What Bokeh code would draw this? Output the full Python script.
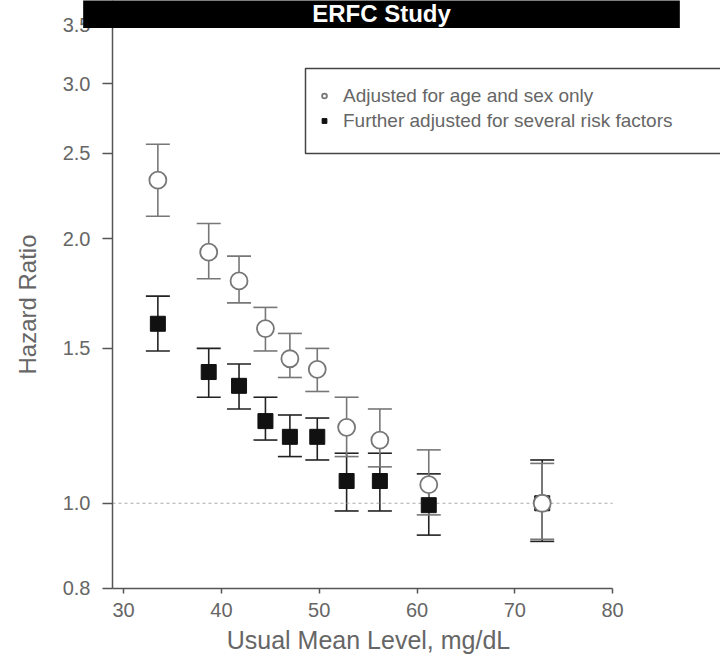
import math
from bokeh.plotting import figure
from bokeh.models import (Range1d, FixedTicker, Whisker, TeeHead, ColumnDataSource,
                          BoxAnnotation, Label, Legend, LegendItem)
from bokeh.embed import file_html
from bokeh.resources import INLINE

# ---- data ----
usual_mean_level = [33.5, 38.7, 41.8, 44.5, 47.0, 49.8, 52.8, 56.2, 61.2, 72.8]
age_sex_hr = [2.33, 1.93, 1.79, 1.58, 1.46, 1.42, 1.22, 1.18, 1.05, 1.00]
age_sex_lo = [2.12, 1.80, 1.69, 1.49, 1.39, 1.34, 1.13, 1.10, 0.97, 0.91]
age_sex_hi = [2.56, 2.08, 1.91, 1.67, 1.56, 1.50, 1.32, 1.28, 1.15, 1.11]
risk_hr = [1.60, 1.41, 1.36, 1.24, 1.19, 1.19, 1.06, 1.06, 0.995, 1.00]
risk_lo = [1.49, 1.32, 1.28, 1.18, 1.13, 1.12, 0.98, 0.98, 0.92, 0.905]
risk_hi = [1.72, 1.50, 1.44, 1.32, 1.26, 1.25, 1.14, 1.14, 1.08, 1.12]

x_ticks = [30, 40, 50, 60, 70, 80]
y_ticks = [0.8, 1.0, 1.5, 2.0, 2.5, 3.0, 3.5]
y_tick_labels = ["0.8", "1.0", "1.5", "2.0", "2.5", "3.0", "3.5"]
reference_hr = 1.0
title_text = "ERFC Study"
x_title = "Usual Mean Level, mg/dL"
y_title = "Hazard Ratio"
legend_labels = ["Adjusted for age and sex only", "Further adjusted for several risk factors"]

FONT = "Liberation Sans"
TEXT = "#666666"
AXIS = "#555555"

# axis extents: the axes sit inside a frame that fills the whole canvas
X_AXIS_START, X_AXIS_END = 28.86, 80
X_START, X_END = 17.41, 91.03
Y_AXIS_START = 0.8
Y_START, Y_END = 0.666, 3.73

p = figure(width=720, height=658, x_range=Range1d(X_START, X_END),
           y_range=Range1d(Y_START, Y_END), y_axis_type="log",
           output_backend="svg", toolbar_location=None,
           min_border_left=0, min_border_right=0, min_border_top=0,
           min_border_bottom=0)
p.outline_line_color = None
p.grid.visible = False
p.background_fill_color = "white"
p.border_fill_color = "white"

# axes (placed at fixed data locations)
xa = p.xaxis[0]
xa.ticker = FixedTicker(ticks=x_ticks)
xa.bounds = (X_AXIS_START, X_AXIS_END)
xa.fixed_location = Y_AXIS_START
ya = p.yaxis[0]
ya.ticker = FixedTicker(ticks=y_ticks)
ya.major_label_overrides = {t: l for t, l in zip(y_ticks, y_tick_labels)}
ya.bounds = (Y_AXIS_START, Y_END)
ya.fixed_location = X_AXIS_START
for ax in (xa, ya):
    ax.axis_line_color = AXIS
    ax.axis_line_width = 1.5
    ax.major_tick_line_color = AXIS
    ax.major_tick_line_width = 1.5
    ax.major_tick_in = 0
    ax.minor_tick_line_color = None
    ax.major_label_text_font = FONT
    ax.major_label_text_color = TEXT
    ax.major_label_text_font_size = "20px"
xa.major_tick_out = 5
xa.major_label_standoff = 10
ya.major_tick_out = 10
ya.major_label_standoff = 12

# axis titles
p.add_layout(Label(x=368, y=639, x_units="canvas", y_units="canvas", text=x_title,
                   text_align="center", text_baseline="middle", text_color=TEXT,
                   text_font=FONT, text_font_size="25px"))
p.add_layout(Label(x=27, y=304, x_units="canvas", y_units="canvas", text=y_title,
                   angle=math.pi / 2, text_align="center", text_baseline="middle",
                   text_color=TEXT, text_font=FONT, text_font_size="24px"))

# reference line at HR = 1
p.segment(x0=[X_AXIS_START], x1=[X_AXIS_END], y0=[reference_hr], y1=[reference_hr],
          line_color="#aaaaaa", line_width=1.2, line_dash="3 3")

src_a = ColumnDataSource(dict(x=usual_mean_level, y=age_sex_hr, lo=age_sex_lo, hi=age_sex_hi))
src_r = ColumnDataSource(dict(x=usual_mean_level, y=risk_hr, lo=risk_lo, hi=risk_hi))

def whisker(src, color):
    return Whisker(source=src, base="x", upper="hi", lower="lo", level="underlay",
                   line_color=color, line_width=1.6,
                   upper_head=TeeHead(size=24, line_color=color, line_width=1.6),
                   lower_head=TeeHead(size=24, line_color=color, line_width=1.6))

p.add_layout(whisker(src_r, "#222222"))
p.add_layout(whisker(src_a, "#777777"))

r_sq = p.scatter("x", "y", source=src_r, marker="square", size=15,
                 fill_color="#111111", line_color="#111111")
r_ci = p.scatter("x", "y", source=src_a, marker="circle", size=17,
                 fill_color="white", line_color="#777777", line_width=1.8)

# legend with a hand-placed border box
box = BoxAnnotation(left=305, right=740, top=68, bottom=153,
                    left_units="canvas", right_units="canvas",
                    top_units="canvas", bottom_units="canvas",
                    fill_color=None, line_color="#444444", line_alpha=1,
                    line_width=1.5, level="overlay")
p.add_layout(box)
legend = Legend(items=[LegendItem(label=legend_labels[0], renderers=[r_ci]),
                       LegendItem(label=legend_labels[1], renderers=[r_sq])],
                location=(318, 525), padding=0, margin=0, spacing=0,
                glyph_width=12, glyph_height=25, label_height=25, label_standoff=13,
                label_text_font=FONT, label_text_font_size="19px",
                label_text_color=TEXT, background_fill_alpha=0,
                border_line_color=None)
p.add_layout(legend)

# title bar (black label box spanning the top)
p.add_layout(Label(x=381, y=13, x_units="canvas", y_units="canvas", text=title_text,
                   text_align="center", text_baseline="middle",
                   text_color="white", text_font=FONT, text_font_style="bold",
                   text_font_size="24px", background_fill_color="black",
                   background_fill_alpha=1,
                   padding=dict(left=229, right=229, top=1, bottom=1),
                   level="overlay"))

open("out.html", "w").write(file_html(p, INLINE))
